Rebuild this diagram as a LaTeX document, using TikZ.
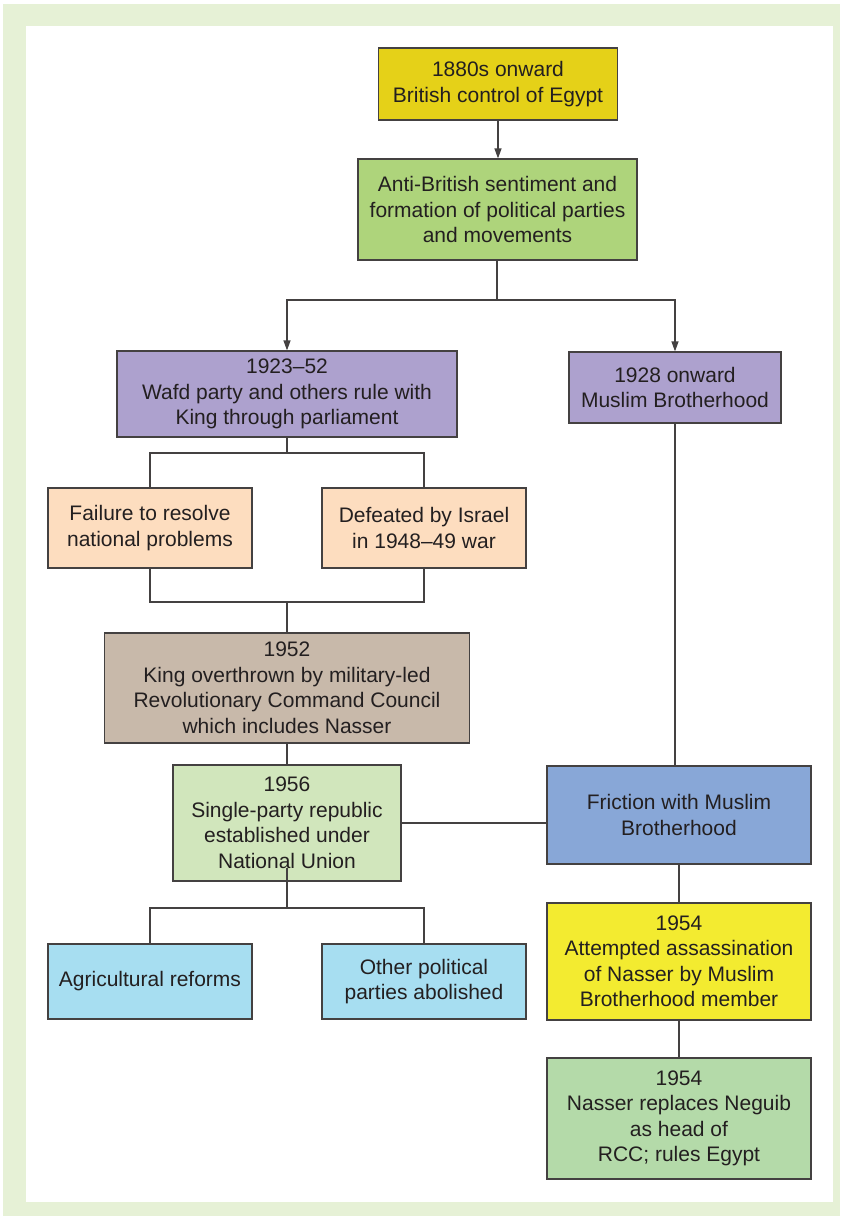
\documentclass[tikz,border=0pt]{standalone}
\usepackage{fontspec}
\setmainfont{Liberation Sans}
\usetikzlibrary{arrows.meta}
\definecolor{frame}{HTML}{E6F1D6}
\definecolor{cA}{HTML}{E5D118}
\definecolor{cB}{HTML}{AED47B}
\definecolor{cC}{HTML}{ADA1CE}
\definecolor{cD}{HTML}{FDDDBF}
\definecolor{cE}{HTML}{C8B9AA}
\definecolor{cF}{HTML}{D1E6BC}
\definecolor{cG}{HTML}{88A7D7}
\definecolor{cH}{HTML}{A7DEF1}
\definecolor{cI}{HTML}{F3EB30}
\definecolor{cJ}{HTML}{B4DAA9}
\definecolor{ink}{HTML}{231F20}
\tikzset{
  box/.style={draw=ink!85, line width=1.2pt, align=center, inner sep=0pt, text=ink,
    font=\fontsize{21}{25.5}\selectfont},
  conn/.style={draw=ink!85, line width=1.2pt},
  arr/.style={conn, -{Triangle[length=10pt,width=7pt]}}
}
\begin{document}
\begin{tikzpicture}[x=1pt,y=-1pt]
\useasboundingbox (0,0) rectangle (843,1219);
\fill[frame] (3,4) rectangle (840,1216);
\fill[white] (26,26) rectangle (833,1202);

\node[box, fill=cA, minimum width=239, minimum height=72] (a) at (498,84) {1880s onward\\British control of Egypt};
\node[box, fill=cB, minimum width=279, minimum height=101] (b) at (497.5,209.5) {Anti-British sentiment and\\formation of political parties\\and movements};
\node[box, fill=cC, minimum width=340, minimum height=86] (c) at (287,394) {1923--52\\Wafd party and others rule with\\King through parliament};
\node[box, fill=cC, minimum width=212, minimum height=71] (d) at (675,387.5) {1928 onward\\Muslim Brotherhood};
\node[box, fill=cD, minimum width=204, minimum height=80] (e) at (150,528) {Failure to resolve\\national problems};
\node[box, fill=cD, minimum width=204, minimum height=80] (f) at (424,528) {Defeated by Israel\\in 1948--49 war};
\node[box, fill=cE, minimum width=365, minimum height=110] (g) at (287,688) {1952\\King overthrown by military-led\\Revolutionary Command Council\\which includes Nasser};
\node[box, fill=cF, minimum width=228, minimum height=116] (h) at (287,823) {1956\\Single-party republic\\established under\\National Union};
\node[box, fill=cG, minimum width=264, minimum height=98] (i) at (679,815) {Friction with Muslim\\Brotherhood};
\node[box, fill=cH, minimum width=204, minimum height=75] (j) at (150,981.5) {Agricultural reforms};
\node[box, fill=cH, minimum width=204, minimum height=75] (k) at (424,981.5) {Other political\\parties abolished};
\node[box, fill=cI, minimum width=264, minimum height=117] (l) at (679,961.5) {1954\\Attempted assassination\\of Nasser by Muslim\\Brotherhood member};
\node[box, fill=cJ, minimum width=264, minimum height=121] (m) at (679,1118.5) {1954\\Nasser replaces Neguib\\as head of\\RCC; rules Egypt};

% connectors
\draw[arr] (a.south) -- (a.south |- b.north);
\coordinate (bj) at (497,300);
\draw[conn] (b.south -| bj) -- (bj);
\draw[arr] (bj) -| (c.north);
\draw[arr] (bj) -| (d.north);

\coordinate (cj) at (287,453);
\draw[conn] (c.south) -- (cj);
\draw[conn] (cj) -| (e.north);
\draw[conn] (cj) -| (f.north);

\coordinate (efj) at (287,602);
\draw[conn] (e.south) |- (efj);
\draw[conn] (f.south) |- (efj);
\draw[conn] (efj) -- (g.north);

\draw[conn] (g.south -| h.north) -- (h.north);
\draw[conn] (h.east) -- (h.east -| i.west);
\draw[conn] (d.south) -- (d.south |- i.north);
\draw[conn] (i.south) -- (l.north);
\draw[conn] (l.south) -- (m.north);

\coordinate (hs) at (287,868);
\coordinate (hj) at (287,908);
\draw[conn] (hs) -- (hj);
\draw[conn] (hj) -| (j.north);
\draw[conn] (hj) -| (k.north);
\end{tikzpicture}
\end{document}
